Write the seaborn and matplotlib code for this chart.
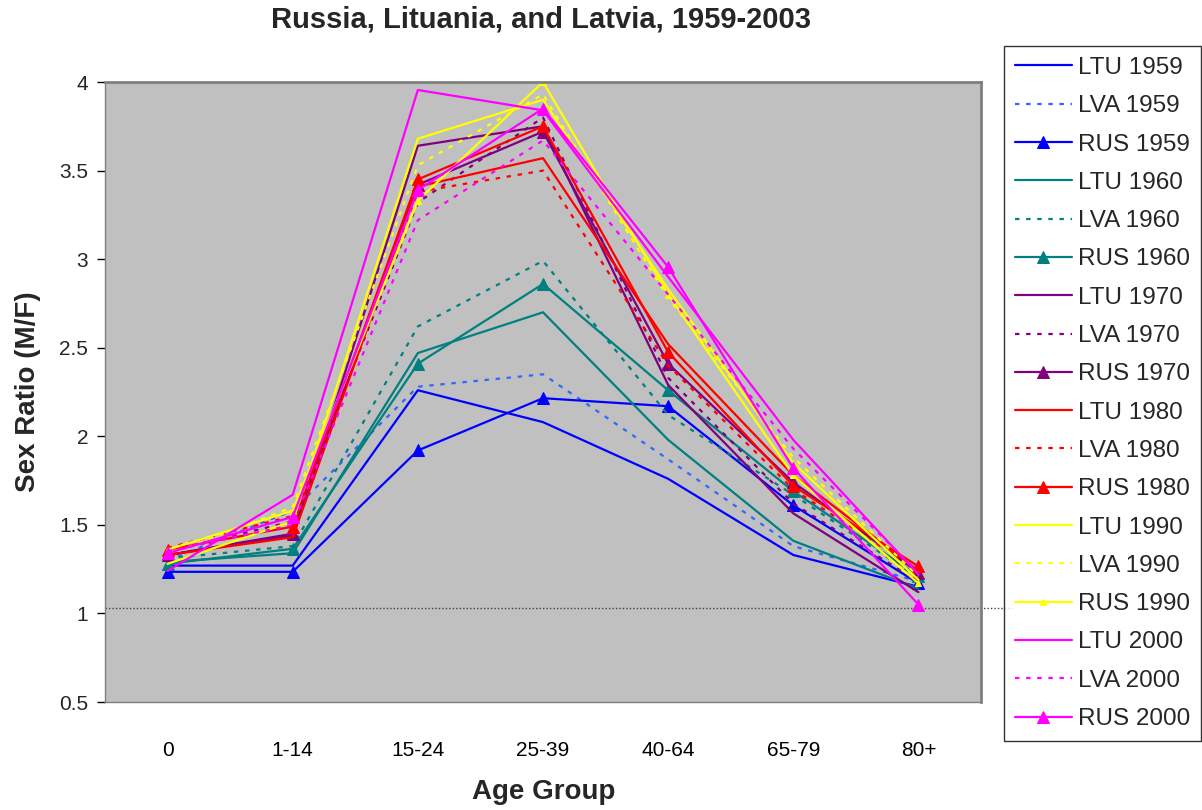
import matplotlib
matplotlib.use("Agg")
import matplotlib.pyplot as plt
import seaborn as sns
import numpy as np
import pandas as pd

# ---- data ----
age_groups = ["0", "1-14", "15-24", "25-39", "40-64", "65-79", "80+"]

ltu_1959 = [1.27, 1.27, 2.26, 2.08, 1.76, 1.33, 1.15]
lva_1959 = [1.30, 1.58, 2.28, 2.35, 1.87, 1.38, 1.18]
rus_1959 = [1.235, 1.235, 1.92, 2.215, 2.17, 1.61, 1.17]
ltu_1960 = [1.29, 1.34, 2.47, 2.70, 1.98, 1.41, 1.14]
lva_1960 = [1.31, 1.38, 2.62, 2.99, 2.12, 1.67, 1.20]
rus_1960 = [1.28, 1.365, 2.41, 2.86, 2.26, 1.69, 1.21]
ltu_1970 = [1.33, 1.44, 3.64, 3.75, 2.29, 1.565, 1.12]
lva_1970 = [1.35, 1.52, 3.32, 3.80, 2.33, 1.62, 1.18]
rus_1970 = [1.33, 1.45, 3.42, 3.72, 2.41, 1.74, 1.23]
ltu_1980 = [1.33, 1.43, 3.41, 3.57, 2.52, 1.78, 1.24]
lva_1980 = [1.37, 1.55, 3.38, 3.50, 2.40, 1.70, 1.24]
rus_1980 = [1.36, 1.49, 3.45, 3.75, 2.475, 1.72, 1.265]
ltu_1990 = [1.28, 1.52, 3.68, 3.90, 2.83, 1.85, 1.19]
lva_1990 = [1.33, 1.60, 3.53, 3.93, 2.78, 1.88, 1.21]
rus_1990 = [1.36, 1.58, 3.33, 4.00, 2.80, 1.78, 1.17]
ltu_2000 = [1.24, 1.67, 3.955, 3.84, 2.90, 1.98, 1.22]
lva_2000 = [1.35, 1.50, 3.22, 3.67, 2.80, 1.93, 1.23]
rus_2000 = [1.34, 1.545, 3.39, 3.85, 2.955, 1.82, 1.05]

reference_level = 1.03

series_names = ["LTU 1959", "LVA 1959", "RUS 1959",
                "LTU 1960", "LVA 1960", "RUS 1960",
                "LTU 1970", "LVA 1970", "RUS 1970",
                "LTU 1980", "LVA 1980", "RUS 1980",
                "LTU 1990", "LVA 1990", "RUS 1990",
                "LTU 2000", "LVA 2000", "RUS 2000"]
series_values = [ltu_1959, lva_1959, rus_1959,
                 ltu_1960, lva_1960, rus_1960,
                 ltu_1970, lva_1970, rus_1970,
                 ltu_1980, lva_1980, rus_1980,
                 ltu_1990, lva_1990, rus_1990,
                 ltu_2000, lva_2000, rus_2000]

# ---- styles ----
year_colors = {"1959": "#0000FF", "1960": "#008080", "1970": "#800080",
               "1980": "#FF0000", "1990": "#FFFF00", "2000": "#FF00FF"}
lva_1959_color = "#3366FF"

rows = []
for name, vals in zip(series_names, series_values):
    for a, v in zip(age_groups, vals):
        rows.append({"series": name, "age": a, "ratio": v})
df = pd.DataFrame(rows)

sns.set_theme(style="white")
plt.rcParams["font.family"] = ["Liberation Sans", "DejaVu Sans"]

fig = plt.figure(figsize=(12.02, 8.10), dpi=100)
ax = fig.add_axes([105 / 1202, 1 - 702 / 810, (981 - 105) / 1202, (702 - 82) / 810])
ax.set_facecolor("#C0C0C0")

for name in series_names:
    country, year = name.split()
    color = year_colors[year]
    if name == "LVA 1959":
        color = lva_1959_color
    sub = df[df["series"] == name]
    kw = dict(color=color, linewidth=1.6)
    if country == "LVA":
        kw["linestyle"] = (0, (2, 3))
    if country == "RUS":
        kw["marker"] = "^"
        kw["markersize"] = 5 if year == "1990" else 9
        kw["markeredgecolor"] = color
        kw["markerfacecolor"] = color
    sns.lineplot(data=sub, x="age", y="ratio", sort=False, ax=ax, label=name, **kw)

ax.axhline(reference_level, xmin=0, xmax=(1012 - 105) / (981 - 105), color="#404040",
           linestyle=(0, (1, 1.5)), linewidth=1.0, clip_on=False, zorder=1)

ax.set_xlim(-0.5, 6.5)
ax.set_ylim(0.5, 4)
ax.set_yticks(np.arange(0.5, 4.01, 0.5))
ax.set_yticklabels(["0.5", "1", "1.5", "2", "2.5", "3", "3.5", "4"])
ax.set_xticks(range(len(age_groups)))
ax.set_xticklabels(age_groups)
ax.set_xticks(np.arange(-0.5, 6.6, 1), minor=True)
ax.tick_params(axis="x", which="major", length=0, pad=28, labelsize=15, colors="black")
ax.tick_params(axis="x", which="minor", length=6, width=1, color="black", direction="out")
ax.tick_params(axis="y", which="major", length=6, width=1, color="black", direction="out",
               pad=6, labelsize=15, left=True)
for s in ["top", "right"]:
    ax.spines[s].set_color("#808080")
    ax.spines[s].set_linewidth(2)
for s in ["left", "bottom"]:
    ax.spines[s].set_color("#808080")
    ax.spines[s].set_linewidth(1)
ax.set_xlabel("")
ax.set_ylabel("")
ax.grid(False)

fig.text(541 / 1202, 1 - 20 / 810, "Russia, Lituania, and Latvia, 1959-2003",
         ha="center", va="center", fontsize=21, fontweight="bold")
fig.text(544 / 1202, 1 - 792 / 810, "Age Group", ha="center", va="center",
         fontsize=20, fontweight="bold")
fig.text(28 / 1202, 1 - 392 / 810, "Sex Ratio (M/F)", ha="center", va="center",
         rotation=90, fontsize=20, fontweight="bold")

h, l = ax.get_legend_handles_labels()
if ax.get_legend():
    ax.get_legend().remove()
leg = fig.legend(h, l, loc="upper left", bbox_to_anchor=(1004 / 1202, 1 - 46 / 810),
                 frameon=True, fancybox=False, fontsize=17.5, labelspacing=0.67,
                 handlelength=2.35, handletextpad=0.25, borderpad=0.45, borderaxespad=0)
leg.get_frame().set_edgecolor("black")
leg.get_frame().set_linewidth(1)

fig.savefig("out.png", dpi=100, facecolor="white")
